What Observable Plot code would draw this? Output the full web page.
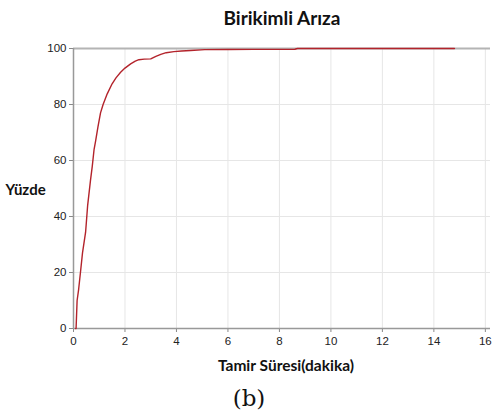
<!DOCTYPE html>
<html>
<head>
<meta charset="utf-8">
<script src="https://cdn.jsdelivr.net/npm/d3@7"></script>
<script src="https://cdn.jsdelivr.net/npm/@observablehq/plot@0.6"></script>
<style>
  html, body { margin: 0; padding: 0; background: #fff; }
  #wrap { width: 492px; height: 418px; position: relative; overflow: hidden; }
  #title { position: absolute; left: 0; top: 6px; width: 492px; text-align: center; padding-left: 72px; box-sizing: border-box;
    font: bold 19px Lato, sans-serif; color: #111; }
  #chart { position: absolute; left: 0; top: 36px; }
  #cap { position: absolute; left: 0; top: 385px; width: 492px; text-align: center;
    font: 23px "DejaVu Serif", "Liberation Serif", serif; color: #111; box-sizing: border-box; padding-left: 6px; }
</style>
</head>
<body>
<div id="wrap">
  <div id="title">Birikimli Arıza</div>
  <div id="chart"></div>
  <div id="cap">(b)</div>
</div>
<script>
const titleText = "Birikimli Arıza";
const xLabel = "Tamir Süresi(dakika)";
const yLabel = "Yüzde";
const xTicks = [0, 2, 4, 6, 8, 10, 12, 14, 16];
const yTicks = [0, 20, 40, 60, 80, 100];
const repairTime = [0.08, 0.1, 0.14, 0.2, 0.27, 0.35, 0.47, 0.55, 0.66, 0.73, 0.8, 0.86, 0.95, 1.05, 1.15, 1.31, 1.5, 1.65, 1.83, 2.0, 2.22, 2.4, 2.54, 2.75, 3.0, 3.2, 3.39, 3.6, 3.9, 4.2, 4.55, 5.1, 6, 7, 8.6, 8.7, 14.8];
const percent =    [0,    0,   10,   14,  20,   27,   34.4, 44,   52.9, 58,   64,  67,   72,   77,   80,   83.8, 87.4, 89.5, 91.5, 93,  94.5, 95.5, 96,   96.2, 96.3, 97.2, 97.9, 98.5, 98.9, 99.1, 99.3, 99.6, 99.65, 99.7, 99.75, 100, 100];

const data = repairTime.map((t, i) => ({t, p: percent[i]}));

const W = 492, H = 349;
const chart = Plot.plot({
  width: W,
  height: H,
  marginTop: 12,
  marginLeft: 73,
  marginRight: 2,
  marginBottom: 57,
  style: { fontFamily: "'Liberation Sans', Arial, sans-serif", fontSize: "11.5px", color: "#222", background: "#fff" },
  x: { domain: [0, 16.2], ticks: xTicks, label: null },
  y: { domain: [0, 100], ticks: yTicks, label: null },
  marks: [
    Plot.gridX(xTicks, { stroke: "#e6e6e6", strokeOpacity: 1 }),
    Plot.gridY(yTicks, { stroke: "#e6e6e6", strokeOpacity: 1 }),
    Plot.ruleY([100], { stroke: "#b4b4b4", strokeWidth: 2 }),
    Plot.axisX({ ticks: xTicks, tickSize: 4, tickPadding: 4, stroke: "#888", label: null }),
    Plot.axisY({ ticks: yTicks, tickSize: 4, tickPadding: 3, stroke: "#888", label: null }),
    Plot.ruleY([0], { stroke: "#999", strokeWidth: 1.5 }),
    Plot.ruleX([0], { stroke: "#999", strokeWidth: 1.5 }),
    Plot.line(data, { x: "t", y: "p", stroke: "#b3232b", strokeWidth: 1.4 }),
    Plot.text([xLabel], { frameAnchor: "bottom", dx: 4, dy: 42, fontWeight: "bold", fontSize: 15.5, fontFamily: "Lato, sans-serif", fill: "#111" }),
    Plot.text([yLabel], { frameAnchor: "left", dx: -68, dy: 2, textAnchor: "start", fontWeight: "bold", fontSize: 15, fontFamily: "Lato, sans-serif", fill: "#111" })
  ]
});
document.getElementById("chart").appendChild(chart);
</script>
</body>
</html>
